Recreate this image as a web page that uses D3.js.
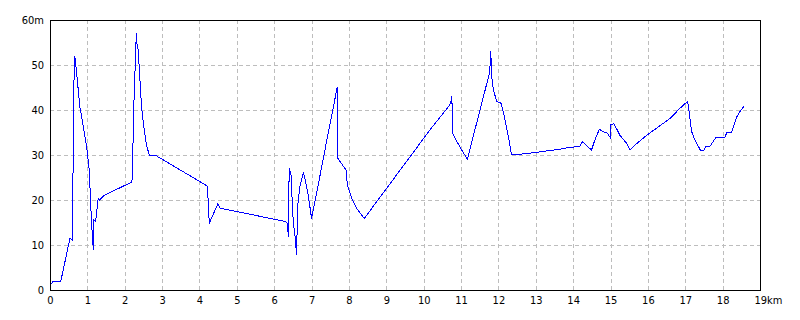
<!DOCTYPE html>
<html>
<head>
<meta charset="utf-8">
<script src="https://cdn.jsdelivr.net/npm/d3@7"></script>
<style>
  body { margin: 0; background: #fff; }
  #wrapper svg { display: block; }
  .tick text { font-family: "DejaVu Sans Condensed", "DejaVu Sans", sans-serif; font-size: 11px; fill: #000; }
</style>
</head>
<body>
<div id="wrapper"></div>
<script>
// distance along the route (km) and elevation (m)
const distKm = [0, 0.09, 0.29, 0.535, 0.6, 0.615, 0.64, 0.66, 0.68, 0.8, 0.98, 1.05, 1.09, 1.115, 1.14, 1.16, 1.17, 1.22, 1.29, 1.33, 1.445,
  2.19, 2.21, 2.23, 2.27, 2.31, 2.33, 2.36, 2.45, 2.52, 2.59, 2.66, 2.81,
  4.19, 4.22, 4.24, 4.27, 4.49, 4.55,
  6.31, 6.34, 6.36, 6.38, 6.4, 6.45, 6.48, 6.51, 6.56, 6.58, 6.6, 6.62, 6.64, 6.69, 6.78, 6.82, 6.91, 7.0, 7.09, 7.22, 7.31, 7.4, 7.69,
  7.7, 7.8, 7.92, 7.96, 8.07, 8.21, 8.41,
  10.17, 10.7, 10.73, 10.75, 10.76, 10.78, 10.84, 11.02, 11.1, 11.17,
  11.77, 11.79, 11.81, 11.83, 11.86, 11.95, 12.07, 12.13, 12.26, 12.35, 12.62, 12.84,
  13.65, 13.91, 14.18, 14.25, 14.36, 14.49, 14.58, 14.7, 14.81, 14.92, 14.99, 15.01, 15.09, 15.25, 15.43, 15.52, 15.61, 15.97, 16.59, 16.86,
  17.06, 17.08, 17.13, 17.17, 17.26, 17.41, 17.49, 17.55, 17.66, 17.82, 18.06, 18.11, 18.24, 18.38, 18.46, 18.58]

const elevM = [1, 2, 2, 11.5, 11, 25, 46, 52, 51, 40.7, 31.9, 26.7, 18.9, 14.8, 11, 9, 15.5, 15.2, 20.4, 20, 21,
  24, 26, 37.8, 47.4, 57, 54.5, 53.3, 40.7, 35.6, 31.9, 30, 30,
  23.2, 23, 17, 15, 19.1, 18.2,
  15.2, 15, 14, 11.8, 27, 25.6, 20, 15.2, 11.8, 9.6, 7.8, 16.3, 20, 23, 26, 24.8, 21.1, 15.9, 19.6, 25.2, 29, 33, 45.2,
  29.3, 28.1, 26.7, 23.3, 20.4, 18.1, 15.9,
  35.6, 41.1, 42, 43, 41.1, 34.8, 33.7, 31.1, 30, 29.1,
  48.5, 53, 50.4, 46.7, 44.8, 41.9, 41.5, 39.6, 34.4, 30, 30.2, 30.4,
  31.3, 31.7, 31.9, 33, 32.1, 31.1, 33.3, 35.7, 35.2, 34.8, 33.9, 36.7, 37, 34.4, 32.6, 31.1, 31.9, 34.4, 38.1, 40.4,
  41.9, 41.1, 37.8, 35.2, 33.3, 31, 31, 31.9, 31.9, 33.9, 33.9, 35, 35, 38.5, 39.6, 40.9]

const xTicks = d3.range(0, 20)
const yTicks = d3.range(0, 70, 10)

function drawProfile() {
    const dataset = distKm.map((d, i) => ({ km: d, m: elevM[i] }))
    const xAccessor = d => d.km
    const yAccessor = d => d.m

    let dimensions = {
        width: 800,
        height: 320,
        margin: { top: 20, right: 40, bottom: 30, left: 50 },
    }
    dimensions.boundedWidth = dimensions.width - dimensions.margin.left - dimensions.margin.right
    dimensions.boundedHeight = dimensions.height - dimensions.margin.top - dimensions.margin.bottom

    const wrapper = d3.select("#wrapper")
        .append("svg")
        .attr("width", dimensions.width)
        .attr("height", dimensions.height)

    const bounds = wrapper.append("g")
        .attr("transform", `translate(${dimensions.margin.left},${dimensions.margin.top})`)

    const xScale = d3.scaleLinear()
        .domain([0, 19])
        .range([0, dimensions.boundedWidth])

    const yScale = d3.scaleLinear()
        .domain([0, 60])
        .range([dimensions.boundedHeight, 0])

    // dashed grid
    const grid = bounds.append("g")
        .attr("stroke", "#bdbdbd")
        .attr("stroke-dasharray", "4,3")
        .attr("shape-rendering", "crispEdges")
    grid.selectAll(".vgrid")
        .data(xTicks.slice(1, -1))
        .join("line")
        .attr("x1", d => Math.round(xScale(d)) + 0.5)
        .attr("x2", d => Math.round(xScale(d)) + 0.5)
        .attr("y1", 0)
        .attr("y2", dimensions.boundedHeight)
    grid.selectAll(".hgrid")
        .data(yTicks.slice(1, -1))
        .join("line")
        .attr("y1", d => Math.round(yScale(d)) + 0.5)
        .attr("y2", d => Math.round(yScale(d)) + 0.5)
        .attr("x1", 0)
        .attr("x2", dimensions.boundedWidth)

    // profile line
    const lineGenerator = d3.line()
        .x(d => xScale(xAccessor(d)))
        .y(d => yScale(yAccessor(d)))

    bounds.append("path")
        .datum(dataset)
        .attr("d", lineGenerator)
        .attr("fill", "none")
        .attr("stroke", "#0000ff")
        .attr("stroke-width", 1)
        .attr("shape-rendering", "crispEdges")

    // frame
    bounds.append("rect")
        .attr("x", 0.5)
        .attr("y", 0.5)
        .attr("width", dimensions.boundedWidth)
        .attr("height", dimensions.boundedHeight)
        .attr("fill", "none")
        .attr("stroke", "#000")
        .attr("shape-rendering", "crispEdges")

    const xAxisGenerator = d3.axisBottom()
        .scale(xScale)
        .tickValues(xTicks)
        .tickSize(0)
        .tickPadding(6)
        .tickFormat(d => d === 19 ? "19km" : d)

    const xAxis = bounds.append("g")
        .call(xAxisGenerator)
        .attr("transform", `translate(0,${dimensions.boundedHeight})`)
    xAxis.select(".domain").remove()
    xAxis.selectAll(".tick")
        .filter(d => d === 19)
        .select("text")
        .attr("text-anchor", "start")
        .attr("dx", -6)

    const yAxisGenerator = d3.axisLeft()
        .scale(yScale)
        .tickValues(yTicks)
        .tickSize(0)
        .tickPadding(6)
        .tickFormat(d => d === 60 ? "60m" : d)

    const yAxis = bounds.append("g")
        .call(yAxisGenerator)
    yAxis.select(".domain").remove()
}

drawProfile()
</script>
</body>
</html>
